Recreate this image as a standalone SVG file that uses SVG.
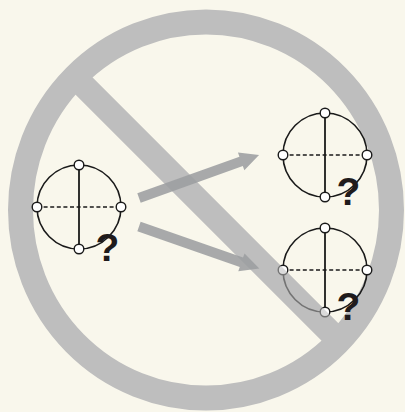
<svg xmlns="http://www.w3.org/2000/svg" width="405" height="412" viewBox="0 0 405 412">
<style>
.ring{fill:none;stroke:#bebebe;stroke-width:25}
.band{stroke:#bebebe;stroke-width:24;stroke-linecap:butt}
.outline{fill:none;stroke:#1a1a1a;stroke-width:1.6}
.solid{stroke:#1a1a1a;stroke-width:1.8}
.dash{stroke:#1a1a1a;stroke-width:1.4;stroke-dasharray:4 2.6}
.node{fill:#ffffff;stroke:#1a1a1a;stroke-width:1.4}
.q{font-family:"Liberation Sans",Arial,sans-serif;font-weight:bold;font-size:39px;fill:#1f1b1c;text-anchor:middle}
.arrow{fill:#9c9ea1;fill-opacity:0.88}
</style>
<defs>
<path id="arr" d="M0,-5 L108.5,-5 L108.5,-9.5 L127.5,0 L108.5,9.5 L108.5,5 L0,5 Z"/>
<g id="sym">
<circle cx="0" cy="0" r="42" class="outline"/>
<line x1="0" y1="-42" x2="0" y2="42" class="solid"/>
<line x1="-42" y1="0" x2="42" y2="0" class="dash"/>
</g>
<g id="nodes4">
<circle cx="0" cy="-42" r="4.8" class="node"/>
<circle cx="0" cy="42" r="4.8" class="node"/>
<circle cx="-42" cy="0" r="4.8" class="node"/>
<circle cx="42" cy="0" r="4.8" class="node"/>
</g>
</defs>
<rect x="0" y="0" width="405" height="412" fill="#f9f7ec"/>
<g id="sign">
<ellipse cx="206" cy="210" rx="185.5" ry="188" class="ring"/>
<line x1="79" y1="81" x2="333" y2="335" class="band"/>
</g>
<g id="left">
<use href="#sym" transform="translate(79,207)"/>
<use href="#nodes4" transform="translate(79,207)"/>
<text x="107.5" y="260.5" class="q">?</text>
</g>
<g id="top-right">
<use href="#sym" transform="translate(325,155)"/>
<use href="#nodes4" transform="translate(325,155)"/>
<text x="348.5" y="204.5" class="q">?</text>
</g>
<g id="bottom-right">
<use href="#sym" transform="translate(325,270)"/>
<use href="#nodes4" transform="translate(325,270)"/>
<line x1="79" y1="81" x2="333" y2="335" stroke="#bebebe" stroke-width="24" stroke-opacity="0.55"/>
<text x="348.5" y="319.5" class="q">?</text>
</g>
<g id="connectors">
<use href="#arr" class="arrow" transform="translate(139,198) rotate(-19.71)"/>
<use href="#arr" class="arrow" transform="translate(139,226.5) rotate(19.29)"/>
</g>
</svg>
